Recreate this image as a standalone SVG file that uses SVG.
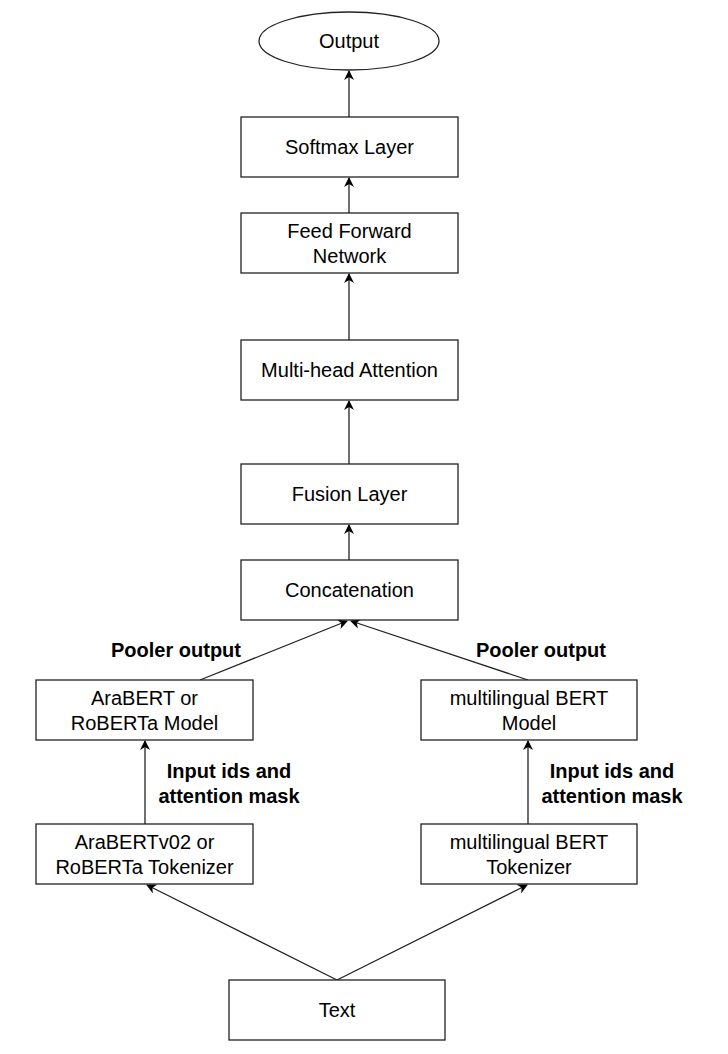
<svg xmlns="http://www.w3.org/2000/svg" width="728" height="1054" viewBox="0 0 728 1054">
<defs>
<style>
.box{fill:#fff;stroke:#222;stroke-width:1.3}
.t{font-family:"Liberation Sans",Arial,sans-serif;font-size:20px;fill:#000;text-anchor:middle}
.b{font-family:"Liberation Sans",Arial,sans-serif;font-size:20px;font-weight:bold;fill:#000;text-anchor:middle}
.c{fill:none;stroke:#222;stroke-width:1.3}
</style>
<marker id="ah" viewBox="0 0 10 10" refX="9" refY="5" markerWidth="10" markerHeight="10" markerUnits="userSpaceOnUse" orient="auto">
<path d="M0,0 L10,5 L0,10 L3,5 Z" fill="#000"/>
</marker>
</defs>
<rect width="728" height="1054" fill="#fff"/>
<g id="connectors">
<line class="c" x1="349" y1="117" x2="349" y2="71" marker-end="url(#ah)"/>
<line class="c" x1="349" y1="213" x2="349" y2="178" marker-end="url(#ah)"/>
<line class="c" x1="349" y1="340" x2="349" y2="274" marker-end="url(#ah)"/>
<line class="c" x1="349" y1="464" x2="349" y2="401" marker-end="url(#ah)"/>
<line class="c" x1="349" y1="560" x2="349" y2="525" marker-end="url(#ah)"/>
<line class="c" x1="200" y1="680" x2="347" y2="621" marker-end="url(#ah)"/>
<line class="c" x1="528" y1="680" x2="351" y2="621" marker-end="url(#ah)"/>
<line class="c" x1="145" y1="824" x2="145" y2="741" marker-end="url(#ah)"/>
<line class="c" x1="528" y1="824" x2="528" y2="741" marker-end="url(#ah)"/>
<line class="c" x1="337" y1="980" x2="147" y2="885" marker-end="url(#ah)"/>
<line class="c" x1="337" y1="980" x2="527" y2="885" marker-end="url(#ah)"/>
<text class="b" x="176" y="657">Pooler output</text>
<text class="b" x="541" y="657">Pooler output</text>
<text class="b" x="229" y="778">Input ids and</text>
<text class="b" x="229" y="803">attention mask</text>
<text class="b" x="612" y="778">Input ids and</text>
<text class="b" x="612" y="803">attention mask</text>
</g>
<g id="output"><ellipse class="box" cx="349" cy="41" rx="90" ry="29"/><text class="t" x="349" y="48">Output</text></g>
<g id="softmax"><rect class="box" x="241" y="117" width="217" height="60"/><text class="t" x="349.5" y="154">Softmax Layer</text></g>
<g id="ffn"><rect class="box" x="241" y="213" width="217" height="60"/><text class="t" x="349.5" y="238">Feed Forward</text><text class="t" x="349.5" y="263">Network</text></g>
<g id="mha"><rect class="box" x="241" y="340" width="217" height="60"/><text class="t" x="349.5" y="377">Multi-head Attention</text></g>
<g id="fusion"><rect class="box" x="241" y="464" width="217" height="60"/><text class="t" x="349.5" y="501">Fusion Layer</text></g>
<g id="concat"><rect class="box" x="241" y="560" width="217" height="60"/><text class="t" x="349.5" y="597">Concatenation</text></g>
<g id="arabert-model"><rect class="box" x="36" y="680" width="217" height="60"/><text class="t" x="144.5" y="705">AraBERT or</text><text class="t" x="144.5" y="730">RoBERTa Model</text></g>
<g id="mbert-model"><rect class="box" x="421" y="680" width="216" height="60"/><text class="t" x="529" y="705">multilingual BERT</text><text class="t" x="529" y="730">Model</text></g>
<g id="arabert-tok"><rect class="box" x="36" y="824" width="217" height="60"/><text class="t" x="144.5" y="849">AraBERTv02 or</text><text class="t" x="144.5" y="874">RoBERTa Tokenizer</text></g>
<g id="mbert-tok"><rect class="box" x="421" y="824" width="216" height="60"/><text class="t" x="529" y="849">multilingual BERT</text><text class="t" x="529" y="874">Tokenizer</text></g>
<g id="text"><rect class="box" x="229" y="980" width="216" height="60"/><text class="t" x="337" y="1017">Text</text></g>
</svg>
